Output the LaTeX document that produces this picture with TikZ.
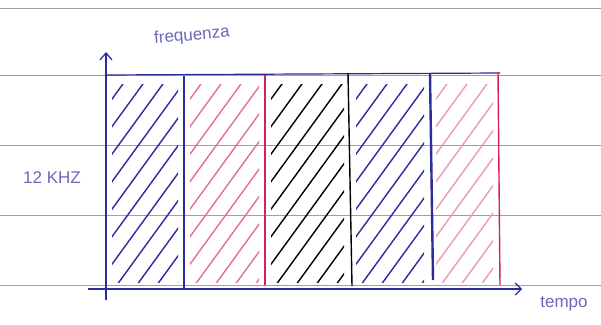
\documentclass[tikz,border=0pt]{standalone}
\usepackage{fontspec}
\setmainfont{Liberation Sans}
\usetikzlibrary{arrows.meta}
\definecolor{penblue}{HTML}{2B2C9C}
\definecolor{penpink}{HTML}{E27096}
\definecolor{penred}{HTML}{D81E5B}
\definecolor{paperline}{HTML}{A0A0A0}
\definecolor{penink}{HTML}{6A6AB8}
\newcommand{\hatchstrip}[3]{%
  \begin{scope}
    \clip (#1+6,84) rectangle (#2-6,282);
    \foreach \i in {-200,-180,...,120}
      \draw[hatchline,#3] (#1+\i,300) -- ++(170,-234);
  \end{scope}}
\tikzset{
  paper/.style={paperline, line width=0.6pt},
  axis/.style={penblue, line width=1.2pt},
  divider/.style={line width=1.4pt},
  hatchline/.style={line width=1.4pt, line cap=round},
  label/.style={penink, font=\fontsize{17}{17}\selectfont, inner sep=0pt}
}
\begin{document}
\begin{tikzpicture}[x=1pt,y=-1pt]
\useasboundingbox (0,0) rectangle (601,324);
\fill[white] (0,0) rectangle (601,324);
\foreach \y in {8,75,145,215,285} \draw[paper] (0,\y) -- (601,\y);
% hatching
\hatchstrip{106}{184}{penblue}
\hatchstrip{184}{265}{penpink}
\hatchstrip{265}{350}{black}
\hatchstrip{350}{430}{penblue}
\hatchstrip{430}{499}{penpink!70}
% axes
\coordinate (ybot) at (106,300);
\coordinate (ytop) at (106,52);
\coordinate (xbeg) at (88,289);
\coordinate (xend) at (522,289);
\draw[axis,-{Straight Barb[length=7pt,width=12pt]}] (ybot) -- (ytop);
\draw[axis,-{Straight Barb[length=6pt,width=12pt]}] (xbeg) -- (xend);
% top edge
\coordinate (tl) at (106,75);
\coordinate (tr) at (500,73);
\draw[axis] (tl) -- (tr);
% dividers
\coordinate (d1t) at (184,76); \coordinate (d1b) at (184,290);
\coordinate (d2t) at (265,75); \coordinate (d2b) at (265,285);
\coordinate (d3t) at (348,73); \coordinate (d3b) at (352,286);
\coordinate (d4t) at (430,73); \coordinate (d4b) at (433,280);
\coordinate (d5t) at (498,72); \coordinate (d5b) at (500,285);
\draw[divider,penblue] (d1t) -- (d1b);
\draw[divider,penred] (d2t) -- (d2b);
\draw[divider,black] (d3t) -- (d3b);
\draw[divider,penblue,line width=2.4pt] (d4t) -- (d4b);
\draw[divider,penred] (d5t) -- (d5b);
% labels
\node[label, rotate=5] (freq) at (192,36) {frequenza};
\node[label] (khz) at (52,178) {12 KHZ};
\node[label] (tempo) at (564,304) {tempo};
\end{tikzpicture}
\end{document}
